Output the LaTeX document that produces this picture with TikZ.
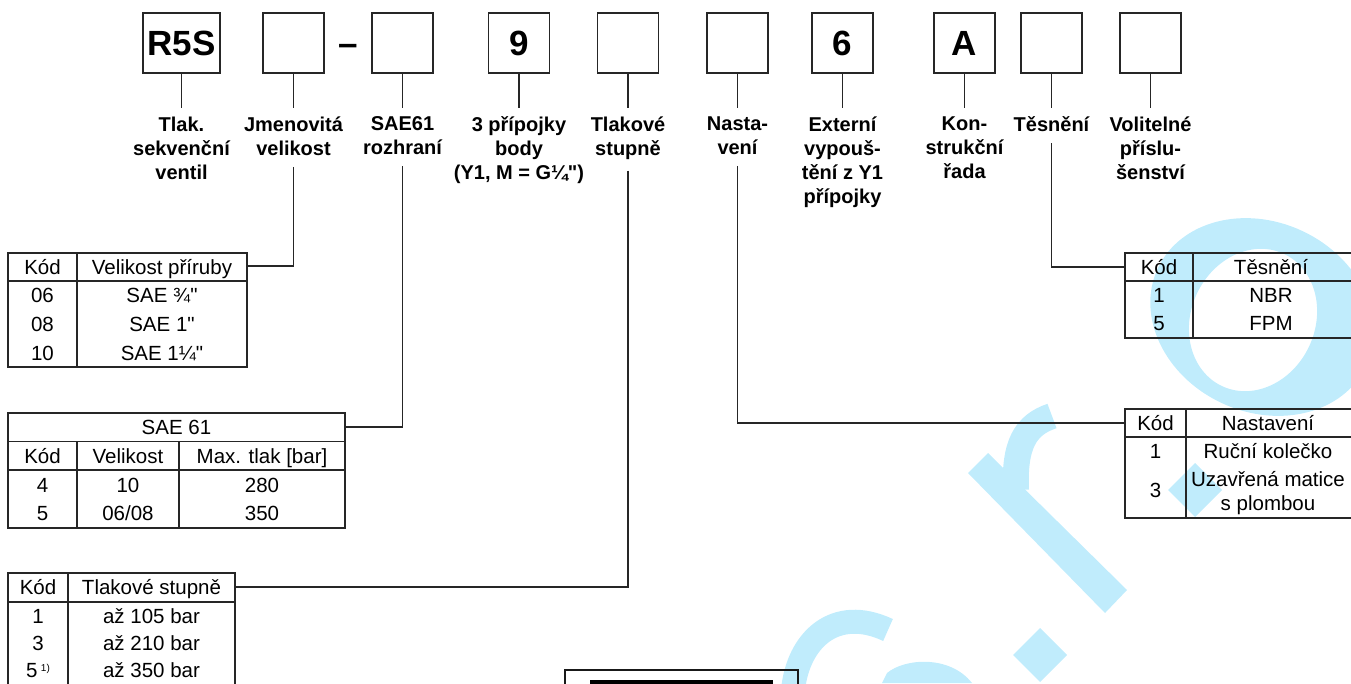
\documentclass[tikz,border=0pt]{standalone}
\usepackage{fontspec}
\setmainfont{Liberation Sans}[Ligatures=TeXOff]
\definecolor{wm}{RGB}{192,236,252}
\begin{document}
\begin{tikzpicture}[x=1pt,y=-1pt,
  box/.style={draw=black!85, line width=1.3pt, minimum width=61pt, minimum height=60pt, inner sep=0pt, font=\fontsize{35}{40}\selectfont\bfseries},
  lbl/.style={align=center, anchor=north, inner sep=0pt, font=\fontsize{20}{24}\selectfont\bfseries},
  con/.style={draw=black!85, line width=1.2pt},
  tbl/.style={draw=black!85, line width=1.2pt},
  cell/.style={anchor=base, inner sep=0pt, font=\fontsize{20.5}{24}\selectfont},
]
\useasboundingbox (0,0) rectangle (1351,683);
% watermark
\fill[wm, even odd rule] (1262,317) ellipse [x radius=115, y radius=95, rotate=-25] (1253,320) ellipse [x radius=62, y radius=73, rotate=-25];
\fill[wm] (968,473) -- (988,453) -- (1127,590) -- (1105,613) -- cycle;
\draw[wm, line width=26pt] (1016,490) .. controls (1014,445) and (1025,425) .. (1052,416);
\fill[wm] (1040,628) -- (1067,655) -- (1040,682) -- (1013,655) -- cycle;
\fill[wm] (1195,463) -- (1222,490) -- (1195,517) -- (1168,490) -- cycle;
\draw[wm, line width=24pt] (793,690) .. controls (798,640) and (835,605) .. (888,630);
\fill[wm] (882,683) -- (887,673) .. controls (905,658) and (950,655) .. (972,683) -- cycle;

% top boxes
\node[box, minimum width=77pt] (b1) at (181.5,43) {R5S};
\node[box] (b2) at (293.5,43) {};
\node[anchor=base, inner sep=0pt, font=\fontsize{35}{40}\selectfont\bfseries] (dash) at (348.5,55) {–};
\node[box] (b3) at (402.5,43) {};
\node[box] (b4) at (519,43) {9};
\node[box] (b5) at (628,43) {};
\node[box] (b6) at (737.5,43) {};
\node[box] (b7) at (842.5,43) {6};
\node[box] (b8) at (964.5,43) {A};
\node[box] (b9) at (1051.5,43) {};
\node[box] (b10) at (1150.5,43) {};

% labels
\node[lbl] (l1) at (181.5,116.5) {Tlak.\\sekvenční\\ventil};
\node[lbl] (l2) at (293.5,116.5) {Jmenovitá\\velikost};
\node[lbl] (l3) at (402.5,116.5) {SAE61\\rozhraní};
\node[lbl] (l4) at (519,116.5) {3 přípojky\\body\\(Y1, M = G¼")};
\node[lbl] (l5) at (628,116.5) {Tlakové\\stupně};
\node[lbl] (l6) at (737.5,116.5) {Nasta-\\vení};
\node[lbl] (l7) at (842.5,116.5) {Externí\\vypouš-\\tění z Y1\\přípojky};
\node[lbl] (l8) at (964.5,116.5) {Kon-\\strukční\\řada};
\node[lbl] (l9) at (1051.5,116.5) {Těsnění};
\node[lbl] (l10) at (1150.5,116.5) {Volitelné\\příslu-\\šenství};

\foreach \i in {1,...,10} {\draw[con] (b\i.south) -- ([yshift=8.5pt]l\i.north);}

% table connection points
\coordinate (t1h) at (247,266);
\coordinate (t2h) at (345,427);
\coordinate (t3h) at (235,587);
\coordinate (t4h) at (1125,267);
\coordinate (t5h) at (1125,423);

\draw[con] ([yshift=-11pt]l2.south) |- (t1h);
\draw[con] ([yshift=-11pt]l3.south) |- (t2h);
\draw[con] ([yshift=-11pt]l5.south) |- (t3h);
\draw[con] ([yshift=-11pt]l9.south) |- (t4h);
\draw[con] ([yshift=-11pt]l6.south) |- (t5h);

% table 1
\draw[tbl] (8,253) rectangle (247,367);
\draw[tbl] (8,281) -- (247,281);
\draw[tbl] (77,253) -- (77,367);
\node[cell] (t1a) at (42.5,274) {Kód};
\node[cell] (t1b) at (162,274) {Velikost příruby};
\node[cell] (t1c) at (42.5,302) {06};
\node[cell] (t1d) at (162,302) {SAE ¾"};
\node[cell] (t1e) at (42.5,331) {08};
\node[cell] (t1f) at (162,331) {SAE 1"};
\node[cell] (t1g) at (42.5,360) {10};
\node[cell] (t1i) at (162,360) {SAE 1¼"};

% table 2
\draw[tbl] (8,413) rectangle (345,528);
\draw[tbl] (8,441.5) -- (345,441.5);
\draw[tbl] (8,470) -- (345,470);
\draw[tbl] (77,441.5) -- (77,528);
\draw[tbl] (179,441.5) -- (179,528);
\node[cell] (t2a) at (176.5,434) {SAE 61};
\node[cell] (t2b) at (42.5,463) {Kód};
\node[cell] (t2c) at (128,463) {Velikost};
\node[cell] (t2d) at (262,463) {Max. tlak [bar]};
\node[cell] (t2e) at (42.5,492) {4};
\node[cell] (t2f) at (128,492) {10};
\node[cell] (t2g) at (262,492) {280};
\node[cell] (t2i) at (42.5,520) {5};
\node[cell] (t2j) at (128,520) {06/08};
\node[cell] (t2k) at (262,520) {350};

% table 3
\draw[tbl] (8,695) -- (8,573) -- (235,573) -- (235,695);
\draw[tbl] (8,602) -- (235,602);
\draw[tbl] (68,573) -- (68,695);
\node[cell] (t3a) at (38,594) {Kód};
\node[cell] (t3b) at (151.5,594) {Tlakové stupně};
\node[cell] (t3c) at (38,623) {1};
\node[cell] (t3d) at (151.5,623) {až 105 bar};
\node[cell] (t3e) at (38,650) {3};
\node[cell] (t3f) at (151.5,650) {až 210 bar};
\node[cell] (t3g) at (38,677) {5\,\raisebox{0.55ex}{\fontsize{10}{10}\selectfont 1)}};
\node[cell] (t3i) at (151.5,677) {až 350 bar};

% table 4
\draw[tbl] (1351,253) -- (1125,253) -- (1125,338) -- (1351,338);
\draw[tbl] (1125,281) -- (1351,281);
\draw[tbl] (1193,253) -- (1193,338);
\node[cell] (t4a) at (1159,274) {Kód};
\node[cell] (t4b) at (1271,274) {Těsnění};
\node[cell] (t4c) at (1159,302) {1};
\node[cell] (t4d) at (1271,302) {NBR};
\node[cell] (t4e) at (1159,330) {5};
\node[cell] (t4f) at (1271,330) {FPM};

% table 5
\draw[tbl] (1351,409) -- (1125,409) -- (1125,518) -- (1351,518);
\draw[tbl] (1125,437) -- (1351,437);
\draw[tbl] (1186,409) -- (1186,518);
\node[cell] (t5a) at (1155.5,430) {Kód};
\node[cell] (t5b) at (1268,430) {Nastavení};
\node[cell] (t5c) at (1155.5,458) {1};
\node[cell] (t5d) at (1268,458) {Ruční kolečko};
\node[cell] (t5e) at (1155.5,497) {3};
\node[cell] (t5f) at (1268,486) {Uzavřená matice};
\node[cell] (t5g) at (1268,510) {s plombou};

% bottom box
\draw[line width=2pt, draw=black!90] (565,695) -- (565,670) -- (798,670) -- (798,695);
\fill[black] (590,680) rectangle (773,695);
\end{tikzpicture}
\end{document}
